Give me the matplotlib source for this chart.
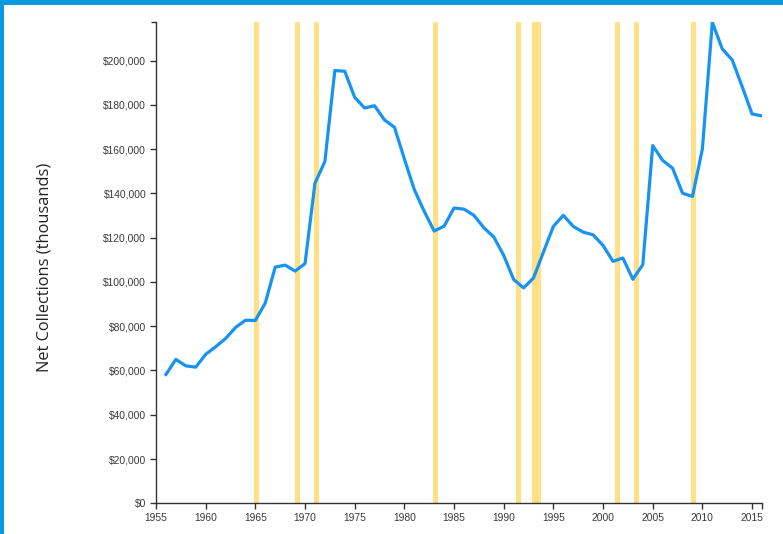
import matplotlib
matplotlib.use('Agg')
import matplotlib.pyplot as plt
from matplotlib.patches import Rectangle
from matplotlib.ticker import FuncFormatter

# ==========================================
# Data
# ==========================================
years = list(range(1956, 2017))
net_collections = [
    58.2, 65.0, 62.1, 61.5, 67.3, 70.7, 74.4, 79.4, 82.7, 82.6,   # 1956-1965
    90.5, 106.7, 107.6, 104.9, 108.3, 144.6, 154.4, 195.5, 195.2, 183.4,  # 1966-1975
    178.6, 179.6, 173.2, 169.9, 155.6, 141.7, 131.9, 123.0, 125.2, 133.4,  # 1976-1985
    132.9, 130.1, 124.5, 120.3, 112.0, 101.1, 97.3, 101.8, 113.5, 125.1,   # 1986-1995
    130.1, 125.1, 122.5, 121.3, 116.5, 109.3, 110.8, 101.2, 107.8, 161.6,  # 1996-2005
    154.9, 151.4, 140.1, 138.6, 160.1, 217.3, 205.3, 200.3, 188.3, 175.9,  # 2006-2015
    175.0,                                                                 # 2016
]
net_collections = [v * 1000 for v in net_collections]  # thousands

# highlighted periods (start year, end year)
band_starts = [1964.85, 1969.0, 1970.9, 1982.9, 1991.2, 1992.8, 2001.2, 2003.1, 2008.9]
band_ends = [1965.35, 1969.5, 1971.4, 1983.4, 1991.75, 1993.75, 2001.7, 2003.65, 2009.4]

x_ticks = list(range(1955, 2016, 5))
y_ticks = list(range(0, 200001, 20000))

LINE_COLOR = '#1793f0'
BAND_COLOR = '#ffe085'
AXIS_COLOR = '#333333'
BORDER_COLOR = '#0a98df'

# ==========================================
# Figure
# ==========================================
W, H = 783, 534
fig = plt.figure(figsize=(W / 100, H / 100), dpi=100)
fig.patch.set_facecolor('white')

ax = fig.add_axes([156 / W, 1 - 503.3 / H, (762 - 156) / W, (503.3 - 22.3) / H])

for s, e in zip(band_starts, band_ends):
    ax.axvspan(s, e, color=BAND_COLOR, lw=0, zorder=1)

ax.plot(years, net_collections, color=LINE_COLOR, lw=2.3, zorder=3,
        solid_joinstyle='round')

ax.set_xlim(1955, 2016)
ax.set_ylim(0, max(net_collections))

ax.set_xticks(x_ticks)
ax.set_yticks(y_ticks)
ax.yaxis.set_major_formatter(FuncFormatter(lambda v, p: f"${v:,.0f}"))

for side in ['top', 'right']:
    ax.spines[side].set_visible(False)
for side in ['left', 'bottom']:
    ax.spines[side].set_color(AXIS_COLOR)
    ax.spines[side].set_linewidth(1.0)

ax.tick_params(axis='both', direction='out', length=4.5, width=1.0,
               color=AXIS_COLOR, labelcolor='#3a3a3a', labelsize=7.4, pad=2.5)
for lbl in ax.get_xticklabels() + ax.get_yticklabels():
    lbl.set_fontfamily('Liberation Sans')

# outer ticks at the domain ends (d3 style)
ax.plot([-0.0075, 0], [1, 1], transform=ax.transAxes, color=AXIS_COLOR,
        lw=1.0, clip_on=False, solid_capstyle='butt')
ax.plot([1, 1], [0, -0.0125], transform=ax.transAxes, color=AXIS_COLOR,
        lw=1.0, clip_on=False, solid_capstyle='butt')

fig.text(45 / W, 1 - 267 / H, 'Net Collections (thousands)', rotation=90,
         ha='center', va='center', fontsize=11.8, family='Open Sans', color='#222222')

# blue frame on top and left edges of the screenshot
fig.patches.append(Rectangle((0, 1 - 5 / H), 1, 5 / H, transform=fig.transFigure,
                             color=BORDER_COLOR, lw=0, zorder=10))
fig.patches.append(Rectangle((0, 0), 4 / W, 1, transform=fig.transFigure,
                             color=BORDER_COLOR, lw=0, zorder=10))

fig.savefig('out.png', dpi=100)
